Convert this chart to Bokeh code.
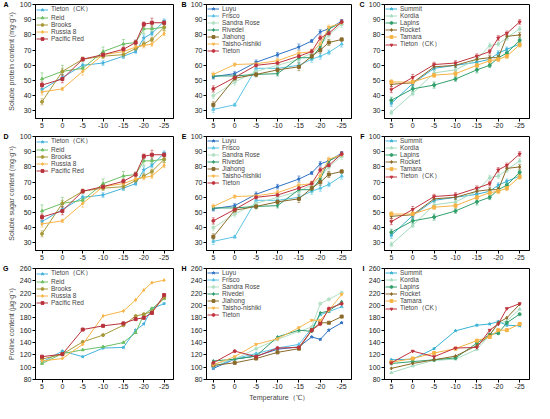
from bokeh.plotting import figure
from bokeh.layouts import gridplot
from bokeh.models import (FixedTicker, Legend, LegendItem, Range1d, LinearAxis,
                          Whisker, TeeHead, ColumnDataSource)
from bokeh.embed import file_html
from bokeh.resources import INLINE

# ---------------- data ----------------
temps = [5, 0, -5, -10, -15, -18, -20, -22, -25]
x_ticks = [5, 0, -5, -10, -15, -20, -25]
soluble_ticks = [30, 40, 50, 60, 70, 80, 90, 100]
proline_ticks = [80, 100, 120, 140, 160, 180, 200, 220, 240, 260]

# Soluble protein (mg/g)
protein_A = {
    "Tieton（CK）": [44, 52, 60, 61.5, 66, 69, 78, 81, 89],
    "Reid": [51, 56, 58, 69, 74, 75, 84, 84, 85],
    "Brooks": [36, 56, 64, 66, 67, 71, 74, 77, 85],
    "Russia 8": [42.5, 44.5, 56, 67, 69, 72, 73, 74, 81],
    "Pacific Red": [47, 51, 64, 67, 70.5, 75, 87, 88, 88],
}
protein_B = {
    "Luyu": [52.5, 54.5, 62, 67, 72, 76, 82, 84, 89],
    "Frisco": [31, 34, 58, 58, 60, 64, 66, 68.5, 74],
    "Sandra Rose": [40, 49, 56, 60, 64, 68, 73, 80, 87],
    "Rivedel": [53, 53, 54, 54.5, 65, 65, 72, 84, 88],
    "Jiahong": [34, 51.5, 54, 57, 59, 66, 70, 75, 77],
    "Taisho-nishiki": [54, 60.5, 61, 63, 68, 69, 74, 85, 88],
    "Tieton": [44.5, 52, 60, 61.5, 66, 69, 78, 81, 88.5],
}
protein_C = {
    "Summit": [35, 48, 58, 60, 62, 64, 68, 70.5, 74],
    "Kordia": [29, 41.5, 55, 57, 64, 73, 74, 78, 84],
    "Lapins": [37, 44.5, 47, 51, 57, 60, 65, 68, 76.5],
    "Rocket": [47.5, 48.5, 59, 60, 64, 65, 65, 79, 80],
    "Tamara": [49, 49, 53.5, 54.5, 60, 63, 64, 66, 73.5],
    "Tieton（CK）": [44, 52, 60.5, 61.5, 66, 69, 78, 81, 88.5],
}
# error bars (+/-)
protein_err_A = {
    "Tieton（CK）": [2, 2, 1.5, 1.5, 1.5, 1, 2, 1.5, 1.5],
    "Reid": [4, 4, 2, 3, 3, 1.5, 3, 2, 2],
    "Brooks": [2, 2, 1.5, 1.5, 1.5, 1, 1.5, 1.5, 2],
    "Russia 8": [2, 1, 2.5, 1.5, 1.5, 1, 1.5, 1.5, 1.5],
    "Pacific Red": [2, 2.5, 1, 1.5, 1.5, 1.5, 1.5, 3, 1.5],
}
protein_err_B = {
    "Luyu": [1.5, 1.5, 1.5, 1.5, 2, 1, 1.5, 1.5, 1],
    "Frisco": [2, 1, 2, 2, 2, 2, 2, 1.5, 2],
    "Sandra Rose": [2, 2, 2, 2, 2, 2, 2, 2, 2],
    "Rivedel": [1.5, 1.5, 1.5, 1.5, 2, 1.5, 1.5, 1.5, 1.5],
    "Jiahong": [2, 1.5, 1.5, 1.5, 2.5, 1.5, 2, 2, 1],
    "Taisho-nishiki": [1.5, 1, 1, 1.5, 1.5, 1.5, 1.5, 1.5, 1.5],
    "Tieton": [2, 2, 1.5, 1.5, 1.5, 1.5, 1.5, 1.5, 1.5],
}
protein_err_C = {
    "Summit": [2, 2, 1.5, 1.5, 1.5, 1.5, 1.5, 1.5, 1.5],
    "Kordia": [1.5, 1.5, 1.5, 1.5, 1.5, 1.5, 1.5, 1.5, 1.5],
    "Lapins": [2, 2, 2, 1.5, 2, 1.5, 1.5, 1.5, 1.5],
    "Rocket": [1.5, 1.5, 1.5, 1.5, 1.5, 1.5, 1.5, 1.5, 1.5],
    "Tamara": [1.5, 1.5, 1.5, 1.5, 1.5, 1.5, 1.5, 1.5, 1.5],
    "Tieton（CK）": [2, 2, 1.5, 1.5, 1.5, 1.5, 1.5, 1.5, 1.5],
}

# Soluble sugar (mg/g) (drawn the same as protein)
sugar_D = {
    "Tieton（CK）": [44, 52, 60, 61.5, 66, 69, 78, 81, 89],
    "Reid": [51, 56, 58, 69, 74, 75, 84, 84, 85],
    "Brooks": [36, 56, 64, 66, 67, 71, 74, 77, 85],
    "Russia 8": [42.5, 44.5, 56, 67, 69, 72, 73, 74, 81],
    "Pacific Red": [47, 51, 64, 67, 70.5, 75, 87, 88, 88],
}
sugar_E = {
    "Luyu": [52.5, 54.5, 62, 67, 72, 76, 82, 84, 89],
    "Frisco": [31, 34, 58, 58, 60, 64, 66, 68.5, 74],
    "Sandra Rose": [40, 49, 56, 60, 64, 68, 73, 80, 87],
    "Rivedel": [53, 53, 54, 54.5, 65, 65, 72, 84, 88],
    "Jiahong": [34, 51.5, 54, 57, 59, 66, 70, 75, 77],
    "Taisho-nishiki": [54, 60.5, 61, 63, 68, 69, 74, 85, 88],
    "Tieton": [44.5, 52, 60, 61.5, 66, 69, 78, 81, 88.5],
}
sugar_F = {
    "Summit": [35, 48, 58, 60, 62, 64, 68, 70.5, 74],
    "Kordia": [29, 41.5, 55, 57, 64, 73, 74, 78, 84],
    "Lapins": [37, 44.5, 47, 51, 57, 60, 65, 68, 76.5],
    "Rocket": [47.5, 48.5, 59, 60, 64, 65, 65, 79, 80],
    "Tamara": [49, 49, 53.5, 54.5, 60, 63, 64, 66, 73.5],
    "Tieton（CK）": [44, 52, 60.5, 61.5, 66, 69, 78, 81, 88.5],
}

# Proline (ug/g)
proline_G = {
    "Tieton（CK）": [108, 126, 117, 131, 132, 160, 170, 195, 203],
    "Reid": [106, 122, 128, 133, 140, 156, 185, 195, 211],
    "Brooks": [113, 121, 141, 152, 168, 183, 186, 190, 213],
    "Russia 8": [110, 114, 137, 183, 191, 209, 225, 237, 241],
    "Pacific Red": [117, 121, 161, 167, 171, 178, 180, 188, 217],
}
proline_H = {
    "Luyu": [98, 113, 118, 129, 133, 149, 145, 160, 172],
    "Frisco": [100, 114, 122, 131, 137, 163, 185, 190, 198],
    "Sandra Rose": [105, 113, 130, 145, 158, 165, 203, 210, 221],
    "Rivedel": [110, 113, 118, 149, 160, 158, 188, 191, 206],
    "Jiahong": [103, 107, 114, 124, 130, 160, 172, 172, 182],
    "Taisho-nishiki": [104, 117, 137, 146, 164, 176, 176, 192, 218],
    "Tieton": [107, 126, 117, 131, 132, 160, 170, 195, 203],
}
proline_I = {
    "Summit": [112, 113, 130, 159, 168, 170, 174, 168, 167],
    "Kordia": [91, 102, 111, 113, 129, 152, 170, 175, 194],
    "Lapins": [106, 109, 112, 115, 139, 153, 155, 172, 186],
    "Rocket": [98, 106, 112, 118, 135, 152, 172, 180, 202],
    "Tamara": [108, 114, 123, 130, 143, 149, 160, 160, 170],
    "Tieton（CK）": [107, 126, 117, 131, 132, 160, 170, 195, 203],
}

# ---------------- styles ----------------
colors1 = {"Tieton（CK）": "#45b4dc", "Reid": "#6cc064", "Brooks": "#a89a3a",
           "Russia 8": "#f8b446", "Pacific Red": "#b8323c"}
colors2 = {"Luyu": "#2f72c4", "Frisco": "#5cc4e4", "Sandra Rose": "#b4e0c4",
           "Rivedel": "#2e9c6c", "Jiahong": "#8a6a2a", "Taisho-nishiki": "#f8b850",
           "Tieton": "#c0343e"}
colors3 = {"Summit": "#3ab2d4", "Kordia": "#a6dcc0", "Lapins": "#33a06c",
           "Rocket": "#8a6a28", "Tamara": "#f6b244", "Tieton（CK）": "#c0343e"}
marker_cycle = ["star", "triangle", "circle", "diamond", "square", "inverted_triangle", "circle"]

FONT = "Liberation Sans"
XR = (6.6, -27.3)


def panel(letter, data, colors, yr, yticks, ylabel=None, xlabel=None, errors=None,
          width=178, height=132, top=4, bottom=14, left=24, right=5):
    p = figure(width=width, height=height, output_backend="svg", toolbar_location=None,
               x_range=Range1d(*XR), y_range=Range1d(*yr),
               min_border_left=left, min_border_right=right,
               min_border_top=top, min_border_bottom=bottom)
    items = []
    for i, (name, vals) in enumerate(data.items()):
        c = colors[name]
        if errors is not None:
            err = errors[name]
            src = ColumnDataSource(dict(x=temps,
                                        lo=[v - e for v, e in zip(vals, err)],
                                        hi=[v + e for v, e in zip(vals, err)]))
            p.add_layout(Whisker(source=src, base="x", lower="lo", upper="hi",
                                 dimension="height", line_color=c, line_alpha=0.7,
                                 line_width=0.8,
                                 upper_head=TeeHead(size=3, line_color=c, line_alpha=0.7,
                                                    line_width=0.8),
                                 lower_head=TeeHead(size=3, line_color=c, line_alpha=0.7,
                                                    line_width=0.8)))
        ln = p.line(temps, vals, line_color=c, line_width=1)
        mk = p.scatter(temps, vals, marker=marker_cycle[i % len(marker_cycle)], size=3,
                       fill_color=c, line_color=c)
        items.append(LegendItem(label=name, renderers=[ln, mk]))
    lg = Legend(items=items, location="top_left", border_line_color=None,
                background_fill_alpha=0, label_text_font=FONT, label_text_font_size="6.5px",
                label_height=7, glyph_height=7, glyph_width=12, spacing=0, padding=1,
                margin=1, label_standoff=3)
    p.add_layout(lg)
    p.xaxis.ticker = FixedTicker(ticks=x_ticks)
    p.xaxis.major_label_overrides = {t: str(t) for t in x_ticks}
    p.yaxis.ticker = FixedTicker(ticks=yticks)
    for ax in (p.xaxis[0], p.yaxis[0]):
        ax.major_label_text_font = FONT
        ax.major_label_text_font_size = "7px"
        ax.major_label_text_color = "#222222"
        ax.major_tick_out = 3
        ax.major_tick_in = 0
        ax.minor_tick_out = 0
        ax.minor_tick_in = 0
        ax.major_label_standoff = 1
        ax.axis_line_color = "black"
        ax.major_tick_line_color = "black"
        ax.axis_label_text_font = FONT
        ax.axis_label_text_font_size = "7px"
        ax.axis_label_text_font_style = "normal"
        ax.axis_label_standoff = 2
    if ylabel:
        p.yaxis.axis_label = ylabel
    if xlabel:
        p.xaxis.axis_label = xlabel
    p.grid.visible = False
    p.outline_line_color = "black"
    p.outline_line_alpha = 1
    p.outline_line_width = 1
    # panel letter, drawn as the single label of an extra, invisible left axis
    ytop = yr[1]
    letter_axis = LinearAxis(ticker=FixedTicker(ticks=[ytop]),
                             major_label_overrides={ytop: letter},
                             axis_line_color=None, major_tick_line_color=None,
                             minor_tick_line_color=None, major_tick_out=0, major_tick_in=0,
                             minor_tick_out=0, minor_tick_in=0,
                             major_label_standoff=(-4 if ylabel else 1),
                             major_label_text_font=FONT, major_label_text_font_style="bold",
                             major_label_text_font_size="7px", major_label_text_color="black")
    p.add_layout(letter_axis, "left")
    return p


SR = (25, 100)
PR = (80, 260)
row1 = [
    panel("A", protein_A, colors1, SR, soluble_ticks, errors=protein_err_A,
          ylabel="Soluble protein content (mg·g⁻¹)"),
    panel("B", protein_B, colors2, SR, soluble_ticks, errors=protein_err_B),
    panel("C", protein_C, colors3, SR, soluble_ticks, errors=protein_err_C),
]
row2 = [
    panel("D", sugar_D, colors1, SR, soluble_ticks, errors=protein_err_A,
          ylabel="Soluble sugar content (mg·g⁻¹)"),
    panel("E", sugar_E, colors2, SR, soluble_ticks, errors=protein_err_B),
    panel("F", sugar_F, colors3, SR, soluble_ticks, errors=protein_err_C),
]
row3 = [
    panel("G", proline_G, colors1, PR, proline_ticks, ylabel="Proline content (μg·g⁻¹)",
          height=139, bottom=21),
    panel("H", proline_H, colors2, PR, proline_ticks, xlabel="Temperature（℃）",
          height=139, bottom=21),
    panel("I", proline_I, colors3, PR, proline_ticks, height=139, bottom=21),
]

grid = gridplot([row1, row2, row3], toolbar_location=None)
open("out.html", "w").write(file_html(grid, INLINE))
